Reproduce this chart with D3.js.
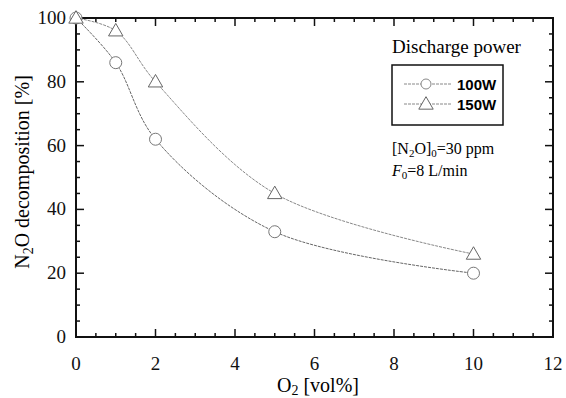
<!DOCTYPE html>
<html>
<head>
<meta charset="utf-8">
<script src="https://cdn.jsdelivr.net/npm/d3@7"></script>
<style>
body { margin: 0; background: #fff; }
svg { display: block; font-family: "Liberation Serif", "Times New Roman", serif; }
.tick-label { font-size: 19px; fill: #111; }
.leg-text { font-family: "Liberation Sans Narrow", "Arial Narrow", "Liberation Sans", sans-serif; font-weight: bold; font-size: 15px; }
</style>
</head>
<body>
<svg id="chart" width="566" height="398"></svg>
<script>
// data
var o2 = [0, 1, 2, 5, 10];
var p100 = [100, 86, 62, 33, 20];
var p150 = [100, 96, 80, 45, 26];
var xTicks = [0, 2, 4, 6, 8, 10, 12];
var yTicks = [0, 20, 40, 60, 80, 100];
var seriesNames = ['100W', '150W'];

var svg = d3.select('#chart');
var pLeft = 76, pRight = 553, pTop = 18, pBottom = 337;

var x = d3.scaleLinear().domain([0, 12]).range([pLeft, pRight]);
var y = d3.scaleLinear().domain([0, 100]).range([pBottom, pTop]);

// frame
svg.append('rect').attr('x', pLeft).attr('y', pTop).attr('width', pRight - pLeft).attr('height', pBottom - pTop)
	.attr('fill', 'none').attr('stroke', '#111').attr('stroke-width', 2);

// ticks pointing inward on all four sides
var xMinor = d3.range(0, 12.01, 0.5);
var yMinor = d3.range(0, 100.1, 5);
xMinor.forEach(function(v) {
	var len = (v % 2 === 0) ? 8 : 4;
	svg.append('line').attr('x1', x(v)).attr('x2', x(v)).attr('y1', pBottom).attr('y2', pBottom - len).attr('stroke', '#111').attr('stroke-width', 1.5);
	svg.append('line').attr('x1', x(v)).attr('x2', x(v)).attr('y1', pTop).attr('y2', pTop + len).attr('stroke', '#111').attr('stroke-width', 1.5);
});
yMinor.forEach(function(v) {
	var len = (v % 20 === 0) ? 8 : 4;
	svg.append('line').attr('x1', pLeft).attr('x2', pLeft + len).attr('y1', y(v)).attr('y2', y(v)).attr('stroke', '#111').attr('stroke-width', 1.5);
	svg.append('line').attr('x1', pRight).attr('x2', pRight - len).attr('y1', y(v)).attr('y2', y(v)).attr('stroke', '#111').attr('stroke-width', 1.5);
});

xTicks.forEach(function(v) {
	svg.append('text').attr('class', 'tick-label').attr('x', x(v)).attr('y', pBottom + 33)
		.attr('text-anchor', 'middle').text(v);
});
yTicks.forEach(function(v) {
	svg.append('text').attr('class', 'tick-label').attr('x', pLeft - 10).attr('y', y(v) + 6)
		.attr('text-anchor', 'end').text(v);
});

// axis titles
var xt = svg.append('text').attr('x', 318).attr('y', 392).attr('text-anchor', 'middle').style('font-size', '20px');
xt.append('tspan').text('O');
xt.append('tspan').attr('dy', 3).style('font-size', '14px').text('2');
xt.append('tspan').attr('dy', -3).text(' [vol%]');

var yt = svg.append('text').attr('transform', 'translate(29,172) rotate(-90)')
	.attr('text-anchor', 'middle').style('font-size', '20px');
yt.append('tspan').text('N');
yt.append('tspan').attr('dy', 4).style('font-size', '14px').text('2');
yt.append('tspan').attr('dy', -4).text('O decomposition [%]');

// curves
var line = d3.line().x(function(d) { return x(d[0]); }).y(function(d) { return y(d[1]); }).curve(d3.curveCatmullRom.alpha(0.5));
var d100 = o2.map(function(v, i) { return [v, p100[i]]; });
var d150 = o2.map(function(v, i) { return [v, p150[i]]; });

svg.append('path').datum(d100).attr('d', line).attr('fill', 'none').attr('stroke', '#666').attr('stroke-width', 1).attr('stroke-dasharray', '3,1');
svg.append('path').datum(d150).attr('d', line).attr('fill', 'none').attr('stroke', '#888').attr('stroke-width', 1).attr('stroke-dasharray', '3,1');

var tri = d3.symbol().type(d3.symbolTriangle).size(90);
svg.selectAll('.m100').data(d100).enter().append('circle')
	.attr('cx', function(d) { return x(d[0]); }).attr('cy', function(d) { return y(d[1]); })
	.attr('r', 6).attr('fill', '#fff').attr('stroke', '#777').attr('stroke-width', 1);
svg.selectAll('.m150').data(d150).enter().append('path')
	.attr('transform', function(d) { return 'translate(' + x(d[0]) + ',' + (y(d[1]) + 1) + ')'; })
	.attr('d', tri).attr('fill', '#fff').attr('stroke', '#666').attr('stroke-width', 1);

// legend
svg.append('text').attr('x', 392).attr('y', 53).style('font-size', '19px').text('Discharge power');
svg.append('rect').attr('x', 392).attr('y', 65).attr('width', 111).attr('height', 60)
	.attr('fill', '#fff').attr('stroke', '#111').attr('stroke-width', 1.5);
seriesNames.forEach(function(name, i) {
	var ly = 84 + i * 20;
	svg.append('line').attr('x1', 404).attr('x2', 452).attr('y1', ly).attr('y2', ly)
		.attr('stroke', '#888').attr('stroke-width', 1).attr('stroke-dasharray', '3,1');
	if (i === 0) {
		svg.append('circle').attr('cx', 426).attr('cy', ly).attr('r', 5).attr('fill', '#fff').attr('stroke', '#888');
	} else {
		svg.append('path').attr('transform', 'translate(426,' + (ly + 1) + ')').attr('d', tri).attr('fill', '#fff').attr('stroke', '#666');
	}
	svg.append('text').attr('class', 'leg-text').attr('x', 457).attr('y', ly + 6).text(name);
});

// conditions
var c1 = svg.append('text').attr('x', 392).attr('y', 154).style('font-size', '16px');
c1.append('tspan').text('[N');
c1.append('tspan').attr('dy', 3).style('font-size', '11px').text('2');
c1.append('tspan').attr('dy', -3).text('O]');
c1.append('tspan').attr('dy', 3).style('font-size', '11px').text('0');
c1.append('tspan').attr('dy', -3).text('=30 ppm');
var c2 = svg.append('text').attr('x', 392).attr('y', 176).style('font-size', '16px');
c2.append('tspan').style('font-style', 'italic').text('F');
c2.append('tspan').attr('dy', 3).style('font-size', '11px').text('0');
c2.append('tspan').attr('dy', -3).text('=8 L/min');
</script>
</body>
</html>
